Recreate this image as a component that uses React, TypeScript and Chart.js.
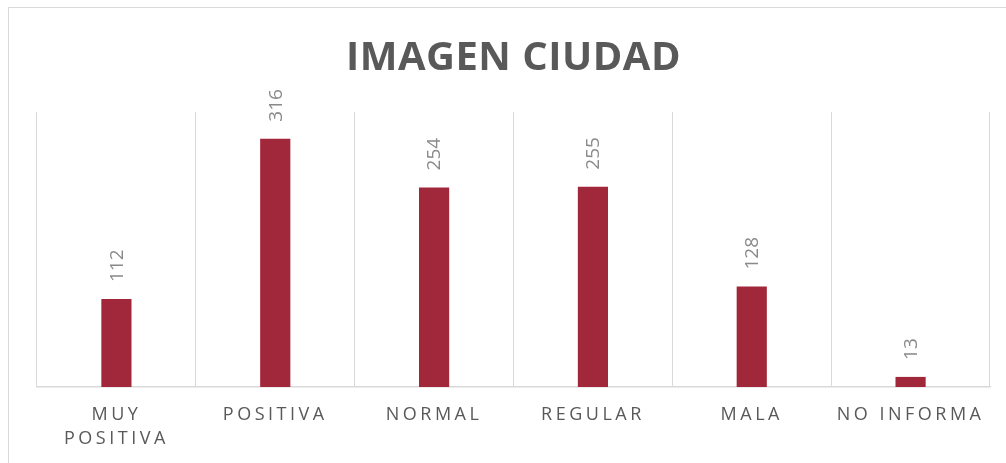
import React, { useEffect, useRef } from "react";
import { Chart, registerables } from "chart.js";

Chart.register(...registerables);

const TITLE = "IMAGEN CIUDAD";
const categories: (string | string[])[] = [
  ["MUY", "POSITIVA"],
  "POSITIVA",
  "NORMAL",
  "REGULAR",
  "MALA",
  "NO INFORMA",
];
const values: number[] = [112, 316, 254, 255, 128, 13];
const Y_MAX = 350;

const BAR_COLOR = "#A1283A";
const GRID_COLOR = "#D9D9D9";
const TICK_COLOR = "#595959";
const LABEL_COLOR = "#8A8A8A";
const TITLE_COLOR = "#595959";
const FONT = "'Open Sans', 'DejaVu Sans', sans-serif";

const spacingPlugin = {
  id: "spacing",
  beforeDraw(chart: any) {
    const ctx = chart.ctx;
    const xs: any = chart.scales.x;
    if (xs && !xs.__patched) {
      const orig = xs.drawLabels.bind(xs);
      xs.drawLabels = (area: any) => {
        ctx.save();
        (ctx as any).letterSpacing = "3.5px";
        orig(area);
        ctx.restore();
      };
      xs.__patched = true;
    }
    const tb: any = chart.titleBlock;
    if (tb && !tb.__patched) {
      const origT = tb.draw.bind(tb);
      tb.draw = (...args: any[]) => {
        ctx.save();
        (ctx as any).letterSpacing = "0.5px";
        origT(...args);
        ctx.restore();
      };
      tb.__patched = true;
    }
  },
};

const valueLabelPlugin = {
  id: "valueLabels",
  afterDatasetsDraw(chart: any) {
    const ctx = chart.ctx;
    const meta = chart.getDatasetMeta(0);
    const data = chart.data.datasets[0].data as number[];
    ctx.save();
    ctx.font = `19px ${FONT}`;
    ctx.fillStyle = LABEL_COLOR;
    ctx.textAlign = "left";
    ctx.textBaseline = "middle";
    meta.data.forEach((el: any, i: number) => {
      ctx.save();
      ctx.translate(el.x, el.y - 17);
      ctx.rotate(-Math.PI / 2);
      ctx.fillText(String(data[i]), 0, 1);
      ctx.restore();
    });
    ctx.restore();
  },
};

export default function App() {
  const ref = useRef<HTMLCanvasElement | null>(null);
  useEffect(() => {
    if (!ref.current) return;
    const chart = new Chart(ref.current, {
      type: "bar",
      data: {
        labels: categories,
        datasets: [
          {
            data: values,
            backgroundColor: BAR_COLOR,
            borderWidth: 0,
            categoryPercentage: 1,
            barPercentage: 0.19,
          },
        ],
      },
      options: {
        responsive: false,
        animation: false,
        layout: { padding: { left: 28, right: 16, top: 0, bottom: 0 } },
        plugins: {
          legend: { display: false },
          tooltip: { enabled: false },
          title: {
            display: true,
            text: TITLE,
            color: TITLE_COLOR,
            font: { family: FONT, size: 40, weight: "bold", lineHeight: 1.2 },
            padding: { top: 27, bottom: 29 },
          },
        },
        scales: {
          x: {
            offset: true,
            grid: {
              display: true,
              offset: true,
              color: GRID_COLOR,
              drawTicks: false,
              lineWidth: 1,
            },
            border: { display: true, color: GRID_COLOR, width: 1.5 },
            ticks: {
              color: TICK_COLOR,
              font: { family: FONT, size: 18, lineHeight: 1.33 },
              padding: 16,
              maxRotation: 0,
              autoSkip: false,
            },
          },
          y: {
            display: false,
            min: 0,
            max: Y_MAX,
          },
        },
      },
      plugins: [spacingPlugin, valueLabelPlugin],
    });
    return () => chart.destroy();
  }, []);

  return (
    <div
      style={{
        position: "fixed",
        left: 8,
        top: 7,
        right: 0,
        bottom: 0,
        borderLeft: `1px solid ${GRID_COLOR}`,
        borderTop: `1px solid ${GRID_COLOR}`,
        background: "#fff",
        overflow: "hidden",
      }}
    >
      <canvas ref={ref} width={997} height={459} style={{ display: "block" }} />
    </div>
  );
}
